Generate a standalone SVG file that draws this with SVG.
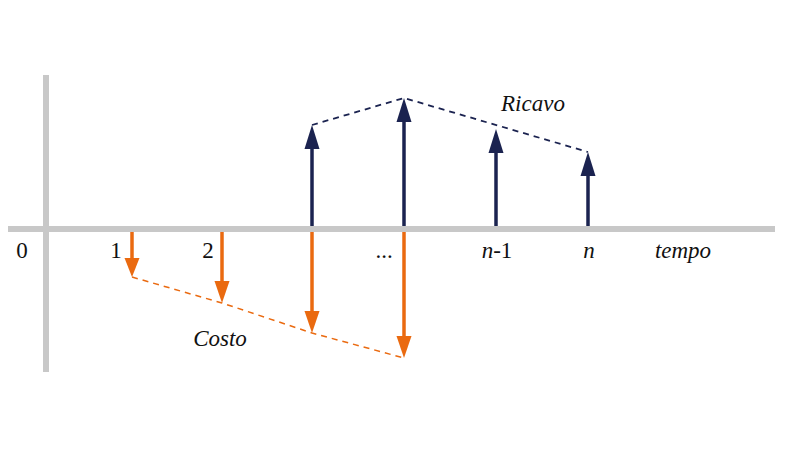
<svg xmlns="http://www.w3.org/2000/svg" width="800" height="450" viewBox="0 0 800 450">
<style>
.ax{stroke:#c8c8c8;stroke-width:6}
.o{stroke:#ea6a10;stroke-width:3.5;fill:none}
.b{stroke:#1b2350;stroke-width:3.5;fill:none}
.od{stroke:#ea6a10;stroke-width:1.5;stroke-dasharray:6,5;fill:none}
.bd{stroke:#1b2350;stroke-width:1.8;stroke-dasharray:6,5;fill:none}
.oh{fill:#ea6a10}.bh{fill:#1b2350}
text{font-family:"Liberation Serif",serif;font-size:23px;fill:#111}
.i{font-style:italic}
</style>
<rect width="800" height="450" fill="#fff"/>
<g id="axes">
<line class="ax" x1="46" y1="75" x2="46" y2="372"/>
<line class="ax" x1="8" y1="229" x2="775" y2="229"/>
</g>
<g id="connectors">
<polyline class="bd" points="312,125 404,98 588,152"/>
<polyline class="od" points="132,277 222,303 312,333 404,358"/>
<line class="o" x1="132" y1="232" x2="132" y2="262"/>
<polygon class="oh" points="124.5,258 139.5,258 132,277"/>
<line class="o" x1="222" y1="232" x2="222" y2="285"/>
<polygon class="oh" points="214.5,281 229.5,281 222,303"/>
<line class="o" x1="312" y1="232" x2="312" y2="315"/>
<polygon class="oh" points="304.5,311 319.5,311 312,333"/>
<line class="o" x1="404" y1="232" x2="404" y2="340"/>
<polygon class="oh" points="396.5,336 411.5,336 404,358"/>
<line class="b" x1="312" y1="226" x2="312" y2="145"/>
<polygon class="bh" points="304.5,149 319.5,149 312,125"/>
<line class="b" x1="404" y1="226" x2="404" y2="118"/>
<polygon class="bh" points="396.5,122 411.5,122 404,98"/>
<line class="b" x1="496" y1="226" x2="496" y2="149"/>
<polygon class="bh" points="488.5,153 503.5,153 496,129"/>
<line class="b" x1="588" y1="226" x2="588" y2="172"/>
<polygon class="bh" points="580.5,176 595.5,176 588,152"/>
</g>
<g id="labels">
<text x="22" y="258" text-anchor="middle">0</text>
<text x="116" y="258" text-anchor="middle">1</text>
<text x="208" y="258" text-anchor="middle">2</text>
<text x="384" y="258" text-anchor="middle">...</text>
<text x="497" y="258" text-anchor="middle"><tspan class="i">n</tspan>-1</text>
<text x="589" y="258" text-anchor="middle" class="i">n</text>
<text x="683" y="258" text-anchor="middle" class="i">tempo</text>
<text x="533" y="111" text-anchor="middle" class="i">Ricavo</text>
<text x="220" y="346" text-anchor="middle" class="i">Costo</text>
</g>
</svg>
